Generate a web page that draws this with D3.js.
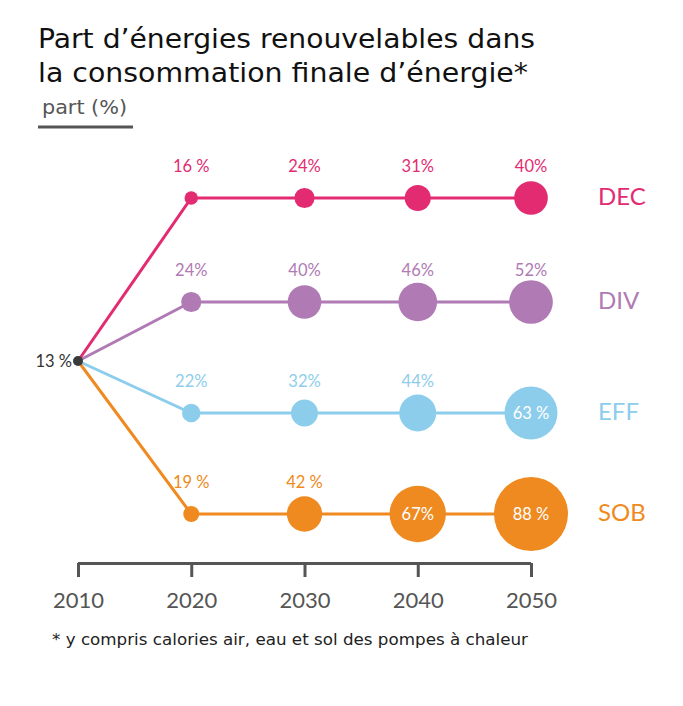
<!DOCTYPE html>
<html><head><meta charset="utf-8">
<script src="https://cdn.jsdelivr.net/npm/d3@7"></script>
<style>body{margin:0;background:#fff}svg{display:block}</style>
</head><body>
<svg id="c" width="683" height="706" font-family="'DejaVu Sans', sans-serif"></svg>
<script>
const years = [2010, 2020, 2030, 2040, 2050];
const scenarios = ["DEC", "DIV", "EFF", "SOB"];
const startValue = 13;
const startLabel = "13 %";
const decValues = [16, 24, 31, 40];
const divValues = [24, 40, 46, 52];
const effValues = [22, 32, 44, 63];
const sobValues = [19, 42, 67, 88];
const decLabels = ["16 %", "24%", "31%", "40%"];
const divLabels = ["24%", "40%", "46%", "52%"];
const effLabels = ["22%", "32%", "44%", "63 %"];
const sobLabels = ["19 %", "42 %", "67%", "88 %"];
const colors = ["#e32b72", "#b07ab4", "#8dcdec", "#ef8a20"];

const series = [
  {name: "DEC", values: decValues, labels: decLabels},
  {name: "DIV", values: divValues, labels: divLabels},
  {name: "EFF", values: effValues, labels: effLabels},
  {name: "SOB", values: sobValues, labels: sobLabels}
];

const svg = d3.select("#c");
const x = d3.scaleLinear().domain([2010, 2050]).range([78, 531]);
const y = d3.scaleOrdinal().domain(scenarios).range([198, 302, 413, 514]);
const r = d3.scaleLinear().domain([0, 88]).range([0, 37]);
const color = d3.scaleOrdinal().domain(scenarios).range(colors);
const y0 = 361;
const insideMin = 22;
const lato = "Lato, 'Open Sans', sans-serif";

function fit(sel, w) {
  const n = sel.node();
  if (n.getComputedTextLength() > 0) sel.attr("textLength", w).attr("lengthAdjust", "spacingAndGlyphs");
  return sel;
}

// title
fit(svg.append("text").attr("x", 38).attr("y", 48).attr("font-size", 26).attr("fill", "#111")
  .text("Part d\u2019énergies renouvelables dans"), 497);
fit(svg.append("text").attr("x", 38).attr("y", 82).attr("font-size", 26).attr("fill", "#111")
  .text("la consommation finale d\u2019énergie*"), 490);
fit(svg.append("text").attr("x", 42).attr("y", 114).attr("font-size", 20).attr("fill", "#555")
  .text("part (%)"), 85);
svg.append("line").attr("x1", 38).attr("x2", 133).attr("y1", 127).attr("y2", 127)
  .attr("stroke", "#555").attr("stroke-width", 3);

// lines
series.forEach(s => {
  const pts = [[x(years[0]), y0]].concat(s.values.map((v, i) => [x(years[i + 1]), y(s.name)]));
  svg.append("path").attr("d", d3.line()(pts)).attr("fill", "none")
    .attr("stroke", color(s.name)).attr("stroke-width", 3);
});

// circles and labels
series.forEach(s => {
  const g = svg.append("g");
  s.values.forEach((v, i) => {
    const cx = x(years[i + 1]), cy = y(s.name);
    g.append("circle").attr("cx", cx).attr("cy", cy).attr("r", r(v)).attr("fill", color(s.name));
    const inside = r(v) >= insideMin;
    g.append("text").attr("x", cx).attr("y", inside ? cy : cy - 32)
      .attr("text-anchor", "middle").attr("dominant-baseline", "central")
      .style("font-family", lato).attr("font-size", 16.5).attr("fill", inside ? "#fff" : color(s.name))
      .text(s.labels[i]);
  });
  svg.append("text").attr("x", 598).attr("y", y(s.name) - 3).attr("dominant-baseline", "central")
    .style("font-family", lato).attr("font-size", 24).attr("fill", color(s.name)).text(s.name);
});

// start point
svg.append("circle").attr("cx", x(years[0])).attr("cy", y0).attr("r", 5).attr("fill", "#3a3a3a");
svg.append("text").attr("x", x(years[0]) - 6).attr("y", y0).attr("text-anchor", "end")
  .attr("dominant-baseline", "central").style("font-family", lato).attr("font-size", 16.5)
  .attr("fill", "#333").text(startLabel);

// axis
const axis = d3.axisBottom(x).tickValues(years).tickFormat(d3.format("d"))
  .tickSize(-14).tickSizeOuter(0).tickPadding(15);
const ag = svg.append("g").attr("transform", "translate(0,577)").call(axis);
ag.select(".domain").remove();
ag.append("line").attr("x1", x(2010)).attr("x2", x(2050)).attr("y1", -13.5).attr("y2", -13.5)
  .attr("stroke", "#555").attr("stroke-width", 3);
ag.selectAll(".tick line").attr("stroke", "#555").attr("stroke-width", 3);
ag.attr("font-family", null).attr("font-size", null);
ag.selectAll(".tick text").attr("font-size", 22).attr("fill", "#555").style("font-family", lato);

// footnote
fit(svg.append("text").attr("x", 52).attr("y", 645).attr("font-size", 15).attr("fill", "#222")
  .text("* y compris calories air, eau et sol des pompes à chaleur"), 476);
</script>
</body></html>
